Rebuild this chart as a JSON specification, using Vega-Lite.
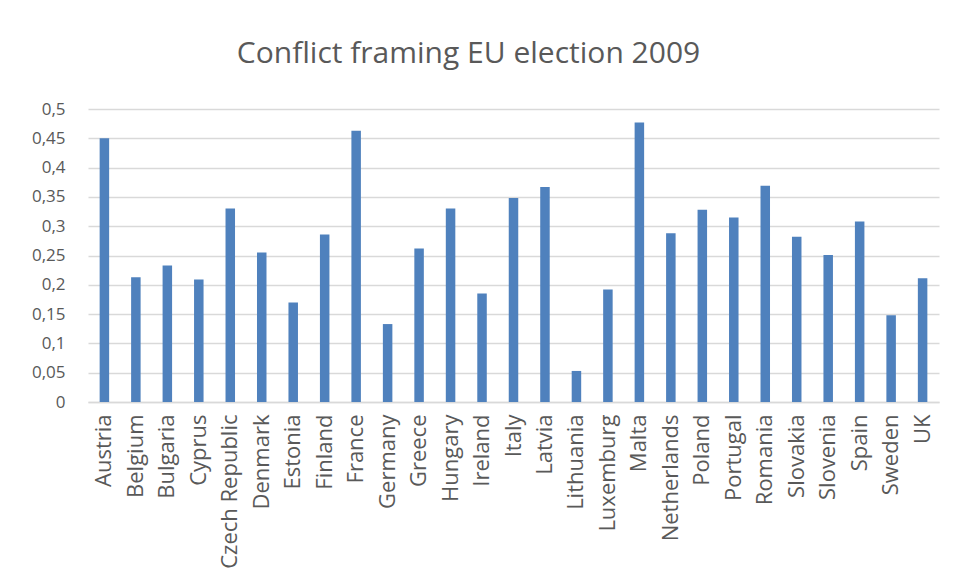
{
  "$schema": "https://vega.github.io/schema/vega-lite/v6.json",
  "width": 851,
  "height": 293,
  "autosize": {"type": "none"},
  "padding": {"left": 88, "top": 109, "right": 17, "bottom": 179},
  "background": "white",
  "title": {
    "text": "Conflict framing EU election 2009",
    "font": "Open Sans",
    "fontSize": 30,
    "fontWeight": "normal",
    "color": "#595959",
    "anchor": "middle",
    "frame": "group",
    "dx": -45,
    "offset": 31
  },
  "data": {
    "values": [
      {"country": "Austria", "value": 0.450},
      {"country": "Belgium", "value": 0.213},
      {"country": "Bulgaria", "value": 0.233},
      {"country": "Cyprus", "value": 0.209},
      {"country": "Czech Republic", "value": 0.330},
      {"country": "Denmark", "value": 0.255},
      {"country": "Estonia", "value": 0.170},
      {"country": "Finland", "value": 0.286},
      {"country": "France", "value": 0.463},
      {"country": "Germany", "value": 0.133},
      {"country": "Greece", "value": 0.262},
      {"country": "Hungary", "value": 0.330},
      {"country": "Ireland", "value": 0.185},
      {"country": "Italy", "value": 0.348},
      {"country": "Latvia", "value": 0.367},
      {"country": "Lithuania", "value": 0.053},
      {"country": "Luxemburg", "value": 0.192},
      {"country": "Malta", "value": 0.477},
      {"country": "Netherlands", "value": 0.288},
      {"country": "Poland", "value": 0.328},
      {"country": "Portugal", "value": 0.315},
      {"country": "Romania", "value": 0.369},
      {"country": "Slovakia", "value": 0.282},
      {"country": "Slovenia", "value": 0.251},
      {"country": "Spain", "value": 0.308},
      {"country": "Sweden", "value": 0.148},
      {"country": "UK", "value": 0.211}
    ]
  },
  "mark": {"type": "bar", "color": "#4F81BD"},
  "encoding": {
    "x": {
      "field": "country",
      "type": "nominal",
      "sort": null,
      "scale": {"paddingInner": 0.698, "paddingOuter": 0.37},
      "axis": {
        "title": null,
        "labelAngle": -90,
        "labelAlign": "right",
        "labelBaseline": "middle",
        "labelPadding": 12,
        "labelFont": "Open Sans",
        "labelFontSize": 22,
        "labelLimit": 300,
        "labelOverlap": false,
        "labelColor": "#595959",
        "ticks": false,
        "domainColor": "#d9d9d9",
        "domainWidth": 1.5,
        "grid": false
      }
    },
    "y": {
      "field": "value",
      "type": "quantitative",
      "scale": {"domain": [0, 0.5], "nice": false},
      "axis": {
        "title": null,
        "values": [0, 0.05, 0.1, 0.15, 0.2, 0.25, 0.3, 0.35, 0.4, 0.45, 0.5],
        "labelExpr": "replace(format(datum.value, '~g'), '.', ',')",
        "labelFont": "Open Sans",
        "labelFontSize": 17,
        "labelColor": "#595959",
        "labelPadding": 23,
        "ticks": false,
        "domain": false,
        "grid": true,
        "gridColor": "#d9d9d9",
        "gridWidth": 1.5
      }
    }
  },
  "config": {
    "view": {"stroke": null}
  }
}
